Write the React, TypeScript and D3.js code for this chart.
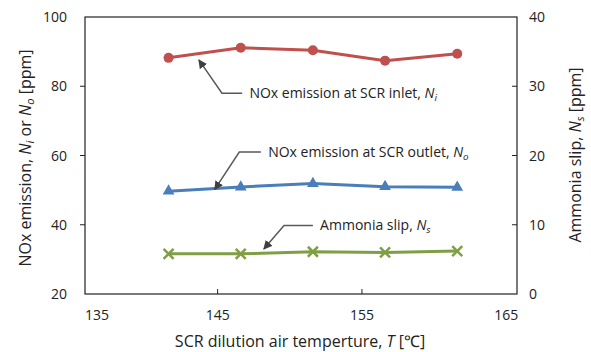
import React from 'react';
import * as d3 from 'd3';

// SCR dilution air temperature [°C]
const temps = [141.6, 146.6, 151.6, 156.6, 161.6];
// NOx at SCR inlet, Ni [ppm]
const noxInlet = [88.2, 91.1, 90.4, 87.4, 89.4];
// NOx at SCR outlet, No [ppm]
const noxOutlet = [49.7, 50.9, 51.9, 51.0, 50.8];
// ammonia slip, Ns [ppm] (right axis)
const ammoniaSlip = [5.8, 5.8, 6.1, 6.0, 6.2];

const xTicks = [135, 145, 155, 165];
const yLeftTicks = [20, 40, 60, 80, 100];
const yRightTicks = [0, 10, 20, 30, 40];

const W = 591;
const H = 352;
const FONT = '"Open Sans", sans-serif';

// plot frame
const box = { left: 85, right: 517, top: 17, bottom: 294 };

const xScale = d3.scaleLinear().domain([135, 165]).range([73.3, 506.3]);
const yLeft = d3.scaleLinear().domain([20, 100]).range([box.bottom, box.top]);
const yRight = d3.scaleLinear().domain([0, 40]).range([box.bottom, box.top]);

// leader lines in data units: tip [T, v], elbow [T, v], end T, text T
const notes = [
  { tip: [143.7, 87.6], elbow: [145.3, 78.0], end: 146.7, textT: 147.2, axis: 'L', main: 'NOx emission at SCR inlet, ', sub: 'i' },
  { tip: [144.8, 50.2], elbow: [146.5, 61.0], end: 148.0, textT: 148.5, axis: 'L', main: 'NOx emission at SCR outlet, ', sub: 'o' },
  { tip: [148.2, 6.5], elbow: [149.6, 9.9], end: 151.6, textT: 152.1, axis: 'R', main: 'Ammonia slip, ', sub: 's' },
];

const RED = '#c0504d';
const BLUE = '#4a7ebb';
const GREEN = '#7f9f45';
const GREY = '#595959';

const NSub: React.FC<{ sub: string }> = ({ sub }) => (
  <>
    <tspan fontStyle="italic">N</tspan>
    <tspan fontStyle="italic" fontSize="0.7em" dy="3">{sub}</tspan>
  </>
);

export default function App() {
  const lineL = (vals: number[]) =>
    d3.line<number>().x((_, i) => xScale(temps[i])).y((d) => yLeft(d))(vals) ?? '';
  const lineR = d3.line<number>().x((_, i) => xScale(temps[i])).y((d) => yRight(d))(ammoniaSlip) ?? '';
  const tri = d3.symbol(d3.symbolTriangle, 60)() ?? '';

  return (
    <svg width={W} height={H} style={{ position: 'absolute', left: 0, top: 0, background: '#fff' }} fontFamily={FONT}>
      <defs>
        <marker id="ah" viewBox="0 0 10 10" refX="9" refY="5" markerWidth="9" markerHeight="9" orient="auto-start-reverse" markerUnits="userSpaceOnUse">
          <path d="M0,0 L10,5 L0,10 z" fill="#404040" />
        </marker>
      </defs>

      {/* frame */}
      <rect x={box.left} y={box.top} width={box.right - box.left} height={box.bottom - box.top} fill="none" stroke="#222" strokeWidth={1.2} />

      {/* left axis */}
      {yLeftTicks.map((t) => (
        <g key={'l' + t}>
          {t > 20 && t < 100 && <line x1={box.left - 5} x2={box.left} y1={yLeft(t)} y2={yLeft(t)} stroke="#222" />}
          <text x={67} y={yLeft(t)} dy="0.36em" textAnchor="end" fontSize={14} fill="#222">{t}</text>
        </g>
      ))}

      {/* right axis */}
      {yRightTicks.map((t) => (
        <g key={'r' + t}>
          {t > 0 && t < 40 && <line x1={box.right - 5} x2={box.right} y1={yRight(t)} y2={yRight(t)} stroke="#222" />}
          <text x={529} y={yRight(t)} dy="0.36em" textAnchor="start" fontSize={14} fill="#222">{t}</text>
        </g>
      ))}

      {/* x axis */}
      {xTicks.map((t) => {
        const x = Math.min(Math.max(xScale(t), box.left + 12), box.right - 10);
        return (
          <g key={'x' + t}>
            {t > 135 && t < 165 && <line x1={xScale(t)} x2={xScale(t)} y1={box.bottom - 5} y2={box.bottom} stroke="#222" />}
            <text x={x} y={320} textAnchor="middle" fontSize={14} fill="#222">{t}</text>
          </g>
        );
      })}

      {/* axis titles */}
      <text x={300} y={347} textAnchor="middle" fontSize={16} fill="#222">
        SCR dilution air temperture, <tspan fontStyle="italic">T</tspan> [℃]
      </text>
      <text transform="translate(31,158) rotate(-90)" textAnchor="middle" fontSize={16} fill="#222">
        NOx emission, <tspan fontStyle="italic">N</tspan>
        <tspan fontStyle="italic" fontSize="0.7em" dy="3">i</tspan>
        <tspan dy="-3"> or </tspan>
        <tspan fontStyle="italic">N</tspan>
        <tspan fontStyle="italic" fontSize="0.7em" dy="3">o</tspan>
        <tspan dy="-3"> [ppm]</tspan>
      </text>
      <text transform="translate(581,155) rotate(-90)" textAnchor="middle" fontSize={16} fill="#222">
        Ammonia slip, <tspan fontStyle="italic">N</tspan>
        <tspan fontStyle="italic" fontSize="0.7em" dy="3">s</tspan>
        <tspan dy="-3"> [ppm]</tspan>
      </text>

      {/* series */}
      <path d={lineL(noxInlet)} fill="none" stroke={RED} strokeWidth={3} />
      {noxInlet.map((v, i) => (
        <circle key={'c' + i} cx={xScale(temps[i])} cy={yLeft(v)} r={5} fill={RED} />
      ))}

      <path d={lineL(noxOutlet)} fill="none" stroke={BLUE} strokeWidth={3} />
      {noxOutlet.map((v, i) => (
        <path key={'t' + i} d={tri} transform={`translate(${xScale(temps[i])},${yLeft(v)})`} fill={BLUE} />
      ))}

      <path d={lineR} fill="none" stroke={GREEN} strokeWidth={3} />
      {ammoniaSlip.map((v, i) => {
        const cx = xScale(temps[i]);
        const cy = yRight(v);
        const s = 5;
        return (
          <path key={'x' + i} d={`M${cx - s},${cy - s}L${cx + s},${cy + s}M${cx - s},${cy + s}L${cx + s},${cy - s}`} stroke={GREEN} strokeWidth={2.5} />
        );
      })}

      {/* annotations */}
      {notes.map((n, i) => {
        const ys = n.axis === 'L' ? yLeft : yRight;
        const tx = xScale(n.tip[0]);
        const ty = ys(n.tip[1]);
        const ex = xScale(n.elbow[0]);
        const ey = ys(n.elbow[1]);
        const hx = xScale(n.end);
        return (
          <g key={'n' + i}>
            <path d={`M${hx},${ey}L${ex},${ey}L${tx},${ty}`} fill="none" stroke={GREY} strokeWidth={1.5} markerEnd="url(#ah)" />
            <text x={xScale(n.textT)} y={ey} dy="0.36em" fontSize={14} fill="#222">
              {n.main}
              <NSub sub={n.sub} />
            </text>
          </g>
        );
      })}
    </svg>
  );
}
